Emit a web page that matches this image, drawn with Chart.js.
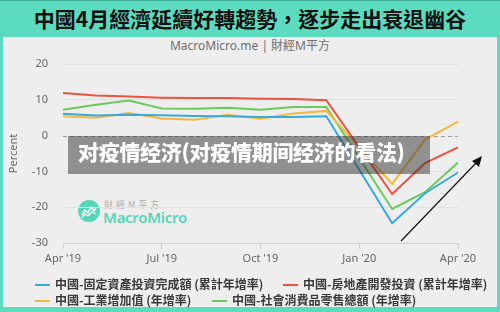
<!DOCTYPE html>
<html>
<head>
<meta charset="utf-8">
<script src="https://cdn.jsdelivr.net/npm/chart.js@4/dist/chart.umd.min.js"></script>
<style>
  html, body { margin: 0; padding: 0; }
  body {
    width: 500px; height: 312px; position: relative; overflow: hidden;
    background: #5cdcbf; font-family: "Noto Sans", "Noto Sans CJK TC", sans-serif;
  }
  #topline { position: absolute; left: 0; top: 0; width: 500px; height: 1px; background: #3aa890; }
  #title {
    position: absolute; left: 0; top: 3px; width: 500px; height: 28px; line-height: 28px;
    text-align: center; font: bold 21px "Noto Sans CJK TC", sans-serif; color: #111;
  }
  #panel { position: absolute; left: 3px; top: 37px; width: 494px; height: 270px; background: #eeeeee; }
  #sub {
    position: absolute; left: 0; top: 38px; width: 500px; text-align: center;
    font: 12px "Noto Sans", "Noto Sans CJK TC", sans-serif; color: #6f6f6f; line-height: 16px;
  }
  #chart { position: absolute; left: 0; top: 0; }
  #logo { position: absolute; left: 76px; top: 198px; }
  #logo .cn { position: absolute; left: 28px; top: 0px; font: 9px "Noto Sans CJK TC", sans-serif; color: #b0b0b0; letter-spacing: 3px; white-space: nowrap; }
  #logo .en { position: absolute; left: 27px; top: 9px; font: 600 15px "Noto Sans", sans-serif; color: #55d6b8; white-space: nowrap; letter-spacing: -0.3px; }
  #veil {
    position: absolute; left: 68px; top: 136px; width: 362px; height: 38px;
    background: rgba(50, 50, 50, 0.5);
  }
  #veil span {
    position: absolute; left: 10px; top: 0; line-height: 38px; white-space: nowrap;
    font: 900 21px "Noto Sans CJK SC", sans-serif; color: #ffffff; letter-spacing: -0.3px;
  }
  #legend { position: absolute; left: 35px; top: 276px; width: 460px; }
  .item { position: absolute; white-space: nowrap; font: bold 12px "Noto Sans CJK TC", sans-serif; color: #3a3a3a; line-height: 16px; }
  .item i { display: inline-block; width: 15px; height: 2px; vertical-align: middle; margin-right: 5px; position: relative; top: -1px; }
  #arrow { position: absolute; left: 0; top: 0; }
</style>
</head>
<body>
<div id="topline"></div>
<div id="title">中國4月經濟延續好轉趨勢，逐步走出衰退幽谷</div>
<div id="panel"></div>
<div id="sub">MacroMicro.me | 財經M平方</div>
<div id="logo">
  <svg width="26" height="26" viewBox="0 0 26 26">
    <circle cx="13" cy="13" r="11" fill="#55d6b8"/>
    <polyline points="6,17 9,12 12,15 15,9 18,13 20,10" fill="none" stroke="#fff" stroke-width="1.6" stroke-linejoin="round"/>
    <polyline points="6,20 9,16 12,18 16,14 20,16" fill="none" stroke="#fff" stroke-width="1.2" stroke-linejoin="round"/>
  </svg>
  <div class="cn">財經M平方</div>
  <div class="en">MacroMicro</div>
</div>
<canvas id="chart" width="500" height="312"></canvas>
<div id="veil"><span>对疫情经济(对疫情期间经济的看法)</span></div>
<svg id="arrow" width="500" height="312">
  <line x1="401" y1="241" x2="477" y2="162" stroke="#111" stroke-width="1.2"/>
  <polygon points="482,156 472,161 479,167" fill="#111"/>
</svg>
<div id="legend"></div>
<script>
// Monthly readings, Apr 2019 – Apr 2020 (January is folded into the Jan–Feb release)
const months = ["Apr '19", "May '19", "Jun '19", "Jul '19", "Aug '19", "Sep '19", "Oct '19",
                "Nov '19", "Dec '19", "Jan '20", "Feb '20", "Mar '20", "Apr '20"];
const yTicks = [-30, -20, -10, 0, 10, 20];

const fixedAssetInvestment = [6.1, 5.6, 5.8, 5.7, 5.5, 5.4, 5.2, 5.2, 5.4, null, -24.5, -16.1, -10.3];
const realEstateInvestment = [11.9, 11.2, 10.9, 10.6, 10.5, 10.5, 10.3, 10.2, 9.9, null, -16.3, -7.7, -3.3];
const industrialOutput     = [5.4, 5.0, 6.3, 4.8, 4.4, 5.8, 4.7, 6.2, 6.9, null, -13.5, -1.1, 3.9];
const retailSales          = [7.2, 8.6, 9.8, 7.6, 7.5, 7.8, 7.2, 8.0, 8.0, null, -20.5, -15.8, -7.5];

const seriesNames = [
  "中國-固定資產投資完成額 (累計年增率)",
  "中國-房地產開發投資 (累計年增率)",
  "中國-工業增加值 (年增率)",
  "中國-社會消費品零售總額 (年增率)"
];
const seriesColors = ["#38a9df", "#e9533f", "#f5b83c", "#6cc95c"];
const seriesValues = [fixedAssetInvestment, realEstateInvestment, industrialOutput, retailSales];

// Legend rows laid out as two lines of two entries
const legendSlots = [[0, 0], [248, 0], [0, 16], [177, 16]];
const legendEl = document.getElementById('legend');
seriesNames.forEach((name, i) => {
  const d = document.createElement('div');
  d.className = 'item';
  d.style.left = legendSlots[i][0] + 'px';
  d.style.top = legendSlots[i][1] + 'px';
  d.innerHTML = '<i style="background:' + seriesColors[i] + '"></i>' + name;
  legendEl.appendChild(d);
});

// Dashed zero line across the plot
const zeroLine = {
  id: 'zeroLine',
  beforeDatasetsDraw(chart) {
    const { ctx, chartArea, scales } = chart;
    const y = scales.y.getPixelForValue(0);
    ctx.save();
    ctx.strokeStyle = '#9a9a9a';
    ctx.lineWidth = 1;
    ctx.setLineDash([4, 3]);
    ctx.beginPath();
    ctx.moveTo(chartArea.left, Math.round(y) + 0.5);
    ctx.lineTo(chartArea.right, Math.round(y) + 0.5);
    ctx.stroke();
    ctx.restore();
  }
};

new Chart(document.getElementById('chart'), {
  type: 'line',
  data: {
    labels: months,
    datasets: seriesValues.map((vals, i) => ({
      label: seriesNames[i],
      data: vals,
      borderColor: seriesColors[i],
      backgroundColor: seriesColors[i],
      borderWidth: 2,
      pointRadius: 0,
      tension: 0,
      spanGaps: true
    }))
  },
  options: {
    responsive: false,
    animation: false,
    layout: { padding: { left: 3, right: 42, top: 64, bottom: 0 } },
    plugins: { legend: { display: false }, tooltip: { enabled: false } },
    scales: {
      x: {
        offset: false,
        afterFit(scale) { scale.height = 69; },
        grid: {
          drawOnChartArea: false,
          drawTicks: true,
          tickLength: 6,
          color: ctx => (ctx.index % 3 === 0 ? '#cfcfcf' : 'rgba(0,0,0,0)')
        },
        border: { display: true, color: '#cfcfcf' },
        ticks: {
          autoSkip: false,
          maxRotation: 0,
          padding: 3,
          color: '#666',
          font: { family: '"Noto Sans", sans-serif', size: 11 },
          callback(v, i) { return i % 3 === 0 ? months[i] : ''; }
        }
      },
      y: {
        min: -30,
        max: 20,
        afterFit(scale) { scale.width = 60; },
        afterBuildTicks(scale) { scale.ticks = yTicks.map(v => ({ value: v })); },
        grid: {
          drawTicks: false,
          color: ctx => (ctx.tick && ctx.tick.value === 0 ? 'rgba(0,0,0,0)' : '#e0e0e0')
        },
        border: { display: false },
        ticks: {
          padding: 15,
          color: '#666',
          font: { family: '"Noto Sans", sans-serif', size: 11 }
        },
        title: {
          display: true,
          text: 'Percent',
          color: '#666',
          padding: { top: 4, bottom: 0 },
          font: { family: '"Noto Sans", sans-serif', size: 11 }
        }
      }
    }
  },
  plugins: [zeroLine]
});
</script>
</body>
</html>
